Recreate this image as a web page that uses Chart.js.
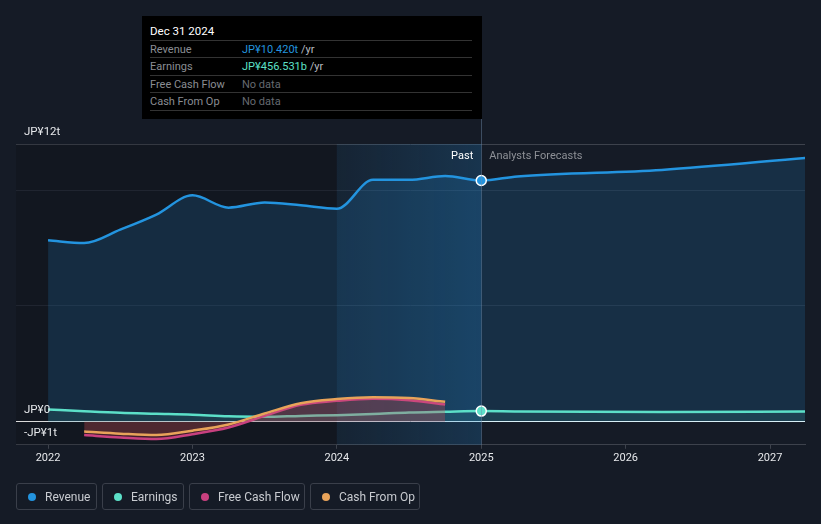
<!DOCTYPE html>
<html>
<head>
<meta charset="utf-8">
<script src="https://cdn.jsdelivr.net/npm/chart.js@4.4.1/dist/chart.umd.min.js"></script>
<style>
  html, body { margin: 0; padding: 0; background: #151b26; font-family: Roboto, "Noto Sans", sans-serif; }
  #wrap { position: relative; width: 821px; height: 524px; overflow: hidden; }
  #chart { position: absolute; left: 0; top: 0; }
  #tip { position: absolute; left: 142px; top: 16px; width: 340px; height: 103px; background: #000; font-size: 11px; }
  #tip .title { position: absolute; left: 8px; top: 8px; color: #fff; font-size: 11.5px; }
  #tip .row { position: absolute; left: 8px; width: 322px; height: 17px; border-top: 1px solid #333; line-height: 17px; }
  #tip .row span.l { position: absolute; left: 0; color: #8a8d93; }
  #tip .row span.v { position: absolute; left: 92px; color: #666a70; }
  #legend { position: absolute; left: 16px; top: 483px; display: flex; gap: 5px; }
  .item { height: 27px; border: 1px solid #3a3f4a; border-radius: 3px; display: flex; align-items: center; padding: 0 0 0 11px; color: #c8cbd0; font-size: 12px; box-sizing: border-box; white-space: nowrap; }
  .item i { flex: 0 0 8px; width: 8px; height: 8px; border-radius: 50%; display: block; margin-right: 9px; }
</style>
</head>
<body>
<div id="wrap">
  <canvas id="chart" width="821" height="524"></canvas>
  <div id="tip">
    <div class="title">Dec 31 2024</div>
    <div class="row" style="top:24px"><span class="l">Revenue</span><span class="v"><b style="font-weight:normal;color:#2394df">JP¥10.420t</b> <span style="color:#b8bbc0">/yr</span></span></div>
    <div class="row" style="top:41px"><span class="l">Earnings</span><span class="v"><b style="font-weight:normal;color:#5ce0c8">JP¥456.531b</b> <span style="color:#b8bbc0">/yr</span></span></div>
    <div class="row" style="top:59px"><span class="l">Free Cash Flow</span><span class="v">No data</span></div>
    <div class="row" style="top:76px; border-bottom:1px solid #333"><span class="l">Cash From Op</span><span class="v">No data</span></div>
  </div>
  <div id="legend">
    <div class="item" style="width:81px"><i style="background:#2394df"></i>Revenue</div>
    <div class="item" style="width:82px"><i style="background:#5ce0c8"></i>Earnings</div>
    <div class="item" style="width:116px"><i style="background:#c8407f"></i>Free Cash Flow</div>
    <div class="item" style="width:110px"><i style="background:#e8a35a"></i>Cash From Op</div>
  </div>
</div>
<script>
// values in JP¥ trillions, x in fractional years
const incomeYears = [2022, 2022.25, 2022.5, 2022.75, 2023, 2023.25, 2023.5, 2023.75, 2024, 2024.25, 2024.5, 2024.75, 2025, 2025.25, 2026.25, 2027.25];
const revenue = [7.84, 7.72, 8.3, 8.95, 9.78, 9.25, 9.47, 9.35, 9.2, 10.45, 10.45, 10.62, 10.42, 10.6, 10.88, 11.4];
const earnings = [0.53, 0.45, 0.38, 0.34, 0.30, 0.23, 0.21, 0.25, 0.28, 0.33, 0.40, 0.43, 0.456, 0.44, 0.42, 0.44];
const cashYears = [2022.25, 2022.5, 2022.75, 2023, 2023.25, 2023.5, 2023.75, 2024, 2024.25, 2024.5, 2024.75];
const freeCashFlow = [-0.58, -0.68, -0.75, -0.54, -0.25, 0.25, 0.73, 0.9, 0.99, 0.93, 0.74];
const cashFromOp = [-0.43, -0.52, -0.58, -0.39, -0.12, 0.35, 0.80, 0.98, 1.06, 1.02, 0.86];
const xTicks = [2022, 2023, 2024, 2025, 2026, 2027];
const yGrid = [-1, 0, 5, 10, 12];
const yLabels = { 12: 'JP¥12t', 0: 'JP¥0', '-1': '-JP¥1t' };
const pastStart = 2024, nowX = 2025;

const pts = (xs, ys) => xs.map((x, i) => ({ x: x, y: ys[i] }));
const dotAtNow = c => (c.raw && c.raw.x === nowX) ? 5 : 0;

const bands = {
  id: 'bands',
  beforeDatasetsDraw(chart) {
    const { ctx, chartArea: a, scales: { x } } = chart;
    const x1 = x.getPixelForValue(pastStart), x2 = x.getPixelForValue(nowX);
    ctx.save();
    ctx.fillStyle = 'rgba(0,0,0,0.14)';
    ctx.fillRect(a.left, a.top, x1 - a.left, a.bottom - a.top);
    const g = ctx.createLinearGradient(x1, 0, x2, 0);
    g.addColorStop(0, 'rgba(35,120,180,0.10)');
    g.addColorStop(1, 'rgba(35,130,200,0.25)');
    ctx.fillStyle = g;
    ctx.fillRect(x1, a.top, x2 - x1, a.bottom - a.top);
    ctx.restore();
  },
  afterDatasetsDraw(chart) {
    const { ctx, chartArea: a, scales: { x, y } } = chart;
    const xn = x.getPixelForValue(nowX);
    ctx.save();
    ctx.strokeStyle = 'rgba(110,140,170,0.45)';
    ctx.lineWidth = 1;
    ctx.beginPath();
    ctx.moveTo(Math.round(xn) + 0.5, 119);
    ctx.lineTo(Math.round(xn) + 0.5, a.bottom);
    ctx.stroke();
    ctx.font = '11px Roboto, sans-serif';
    ctx.textBaseline = 'middle';
    ctx.textAlign = 'right';
    ctx.fillStyle = '#ffffff';
    ctx.fillText('Past', xn - 8, 156);
    ctx.textAlign = 'left';
    ctx.fillStyle = '#8d9096';
    ctx.fillText('Analysts Forecasts', xn + 8, 156);
    ctx.fillStyle = '#e6e8eb';
    ctx.font = '11.5px Roboto, sans-serif';
    Object.keys(yLabels).forEach(k => {
      const v = Number(k);
      const py = y.getPixelForValue(v);
      ctx.fillText(yLabels[k], a.left + 8, py - 12);
    });
    ctx.restore();
  }
};

new Chart(document.getElementById('chart'), {
  type: 'line',
  data: {
    datasets: [
      {
        label: 'Revenue', data: pts(incomeYears, revenue), order: 4,
        borderColor: '#2394df', borderWidth: 2.5, fill: 'origin',
        backgroundColor: 'rgba(35,148,223,0.17)',
        pointRadius: dotAtNow, pointBackgroundColor: '#2394df', pointBorderColor: '#fff', pointBorderWidth: 1.5
      },
      {
        label: 'Earnings', data: pts(incomeYears, earnings), order: 3,
        borderColor: '#5ce0c8', borderWidth: 2.5, fill: 'origin',
        backgroundColor: 'rgba(92,224,200,0.10)',
        pointRadius: dotAtNow, pointBackgroundColor: '#5ce0c8', pointBorderColor: '#fff', pointBorderWidth: 1.5
      },
      {
        label: 'Free Cash Flow', data: pts(cashYears, freeCashFlow), order: 2,
        borderColor: '#c8407f', borderWidth: 2.5, fill: 'origin',
        backgroundColor: 'rgba(190,50,80,0.28)', pointRadius: 0
      },
      {
        label: 'Cash From Op', data: pts(cashYears, cashFromOp), order: 1,
        borderColor: '#e8a35a', borderWidth: 2.5, fill: 'origin',
        backgroundColor: 'rgba(232,163,90,0.08)', pointRadius: 0
      }
    ]
  },
  options: {
    responsive: false,
    animation: false,
    cubicInterpolationMode: 'monotone',
    layout: { padding: { top: 144, left: 16, right: 16, bottom: 56 } },
    plugins: { legend: { display: false }, tooltip: { enabled: false } },
    scales: {
      x: {
        type: 'linear', min: 2021.778, max: 2027.242,
        afterBuildTicks: s => { s.ticks = xTicks.map(v => ({ value: v })); },
        ticks: { color: '#e6e8eb', font: { size: 11, family: 'Roboto' }, padding: 3, callback: v => String(v) },
        grid: { drawOnChartArea: false, drawTicks: true, tickLength: 4, color: '#3d424c' },
        border: { color: '#3d424c' }
      },
      y: {
        min: -1, max: 12,
        afterBuildTicks: s => { s.ticks = yGrid.map(v => ({ value: v })); },
        ticks: { display: false },
        grid: {
          drawTicks: false,
          color: c => c.tick.value === 0 ? '#ffffff' : (c.tick.value === 12 ? '#3d424c' : (c.tick.value === -1 ? 'rgba(0,0,0,0)' : '#262c38')),
          lineWidth: 1
        },
        border: { display: false }
      }
    }
  },
  plugins: [bands]
});
</script>
</body>
</html>
